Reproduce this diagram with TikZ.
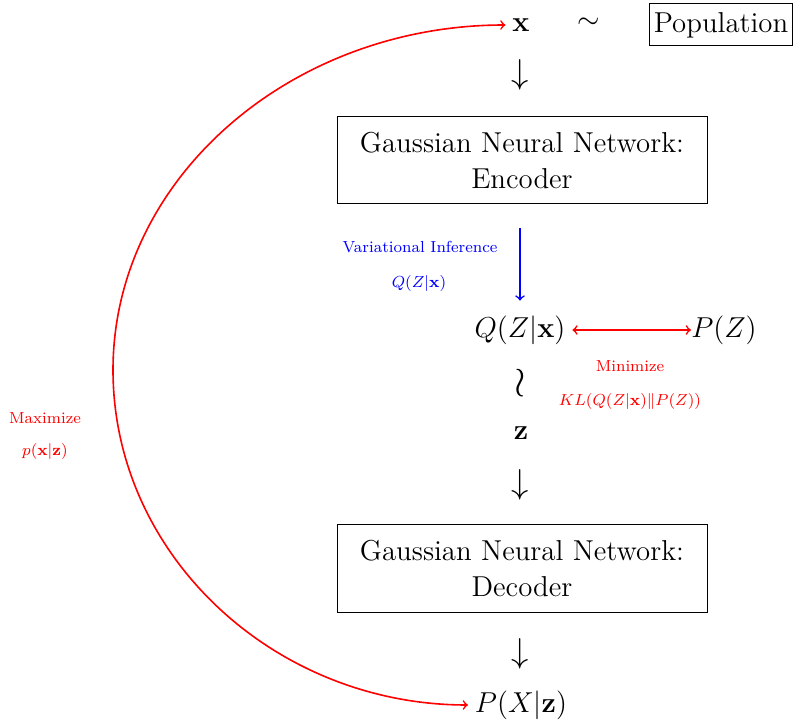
\documentclass[tikz,border=0pt]{standalone}
\usepackage{amsmath}
\begin{document}
\begin{tikzpicture}[x=0.5pt,y=-0.5pt,
  big/.style={font=\Large},
  boxnode/.style={draw, font=\Large, align=center, minimum width=185pt, minimum height=43.5pt, inner sep=2pt, line width=0.5pt},
  bigarrow/.style={font=\fontsize{19}{19}\selectfont, inner sep=0pt},
  redlbl/.style={font=\footnotesize, text=red},
  bluelbl/.style={font=\footnotesize, text=blue},
  conn/.style={thick}
]
\useasboundingbox (0,0) rectangle (798,721);

\node[big] (x) at (521,25) {$\mathbf{x}$};
\node[big] (sim) at (589,23) {$\sim$};
\node[draw, font=\Large, minimum width=71.5pt, minimum height=21pt, inner sep=1pt, line width=0.5pt] (pop) at (721,25) {Population};

\node[bigarrow] (a1) at (520,75) {$\downarrow$};
\node[boxnode] (enc) at (522,160.5) {Gaussian Neural Network:\\Encoder};

\node[bluelbl] (vi) at (420,247) {Variational Inference};
\node[bluelbl] (viq) at (419,284) {$Q(Z|\mathbf{x})$};

\node[big] (Q) at (520,330) {$Q(Z|\mathbf{x})$};
\node[big, inner xsep=0pt] (PZ) at (724,330) {$P(Z)$};

\node[redlbl] (min) at (630,366) {Minimize};
\node[redlbl] (kl) at (630,402) {$KL(Q(Z|\mathbf{x})\|P(Z))$};

\node[font=\huge, inner sep=0pt] (wr) at (520,383) {$\wr$};
\node[big] (z) at (521,433) {$\mathbf{z}$};

\node[bigarrow] (a2) at (520,485) {$\downarrow$};
\node[boxnode] (dec) at (522,568.5) {Gaussian Neural Network:\\Decoder};
\node[bigarrow] (a3) at (520,654) {$\downarrow$};

\node[big] (pxz) at (521,705) {$P(X|\mathbf{z})$};

\node[redlbl] (max) at (45,418) {Maximize};
\node[redlbl] (maxp) at (45,452) {$p(\mathbf{x}|\mathbf{z})$};

\coordinate (m) at (113,370);

\draw[conn, blue, ->, shorten <=12pt, shorten >=4pt] (enc.south -| Q.north) -- (Q.north);
\draw[conn, red, <->] (Q.east) -- (PZ.west);
\draw[conn, red, <->] (x.west) .. controls +(-215,0) and +(0,-191) .. (m)
  .. controls +(0,185) and +(-194,0) .. (pxz.west);
\end{tikzpicture}
\end{document}
